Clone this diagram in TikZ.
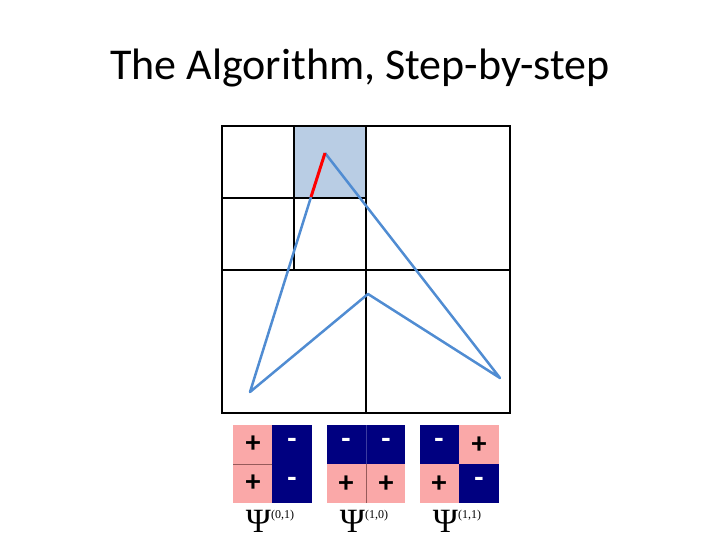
\documentclass[tikz,border=0pt]{standalone}
\usepackage{fontspec}
\setmainfont{Carlito}
\newfontfamily\grk{Liberation Serif}
\newcommand{\psilab}[1]{{\grk\fontsize{34}{34}\selectfont Ψ}\raisebox{14pt}{\grk\fontsize{12}{12}\selectfont (#1)}}
\begin{document}
\begin{tikzpicture}[x=1pt,y=-1pt,
  gl/.style={line width=2.5pt,black},
  pl/.style={line width=2.5pt,color={rgb,255:red,80;green,140;blue,210}},
  pinkc/.style={fill={rgb,255:red,250;green,168;blue,168}},
  navyc/.style={fill={rgb,255:red,0;green,0;blue,128}},
  sg/.style={font=\fontsize{30}{30}\selectfont\bfseries},
  lab/.style={inner sep=0pt}]
\useasboundingbox (0,0) rectangle (720,540);
\node (title) at (360,68) {\fontsize{44}{44}\selectfont The Algorithm, Step-by-step};
\fill[color={rgb,255:red,185;green,205;blue,228}] (294,126) rectangle (366,198);
\draw[gl] (222,126) rectangle (510,413);
\draw[gl] (366,126) -- (366,413);
\draw[gl] (222,270) -- (510,270);
\draw[gl] (294,126) -- (294,270);
\draw[gl] (222,198) -- (366,198);
\coordinate (p1) at (325,153);
\coordinate (p2) at (250,392);
\coordinate (p3) at (368,294);
\coordinate (p4) at (500,378);
\coordinate (pr) at (311,197);
\draw[pl,line join=round] (pr) -- (p2) -- (p3) -- (p4) -- (p1);
\draw[line width=3pt,red] (p1) -- (pr);
% block 1
\fill[pinkc] (233,425) rectangle (272,503);
\fill[navyc] (272,425) rectangle (312,503);
\draw[color={rgb,255:red,150;green,90;blue,90},line width=0.4pt] (233,464) -- (272,464);
\node[sg] at (253,444) {+}; \node[sg] at (253,483) {+};
\node[sg,white] at (292,443) {-}; \node[sg,white] at (292,482) {-};
% block 2
\fill[navyc] (327,425) rectangle (405,464);
\fill[pinkc] (327,464) rectangle (405,503);
\draw[color={rgb,255:red,150;green,90;blue,90},line width=0.4pt] (366,464) -- (366,503);
\draw[color={rgb,255:red,60;green,60;blue,160},line width=0.4pt] (366,425) -- (366,464);
\node[sg,white] at (346,443) {-}; \node[sg,white] at (386,443) {-};
\node[sg] at (346,484) {+}; \node[sg] at (386,484) {+};
% block 3
\fill[navyc] (420,425) rectangle (459,464);
\fill[pinkc] (459,425) rectangle (499,464);
\fill[pinkc] (420,464) rectangle (459,503);
\fill[navyc] (459,464) rectangle (499,503);
\node[sg,white] at (439,443) {-}; \node[sg] at (479,445) {+};
\node[sg] at (439,484) {+}; \node[sg,white] at (479,482) {-};
\node[lab] (l1) at (270,521) {\psilab{0,1}};
\node[lab] (l2) at (364,521) {\psilab{1,0}};
\node[lab] (l3) at (457,521) {\psilab{1,1}};
\end{tikzpicture}
\end{document}
